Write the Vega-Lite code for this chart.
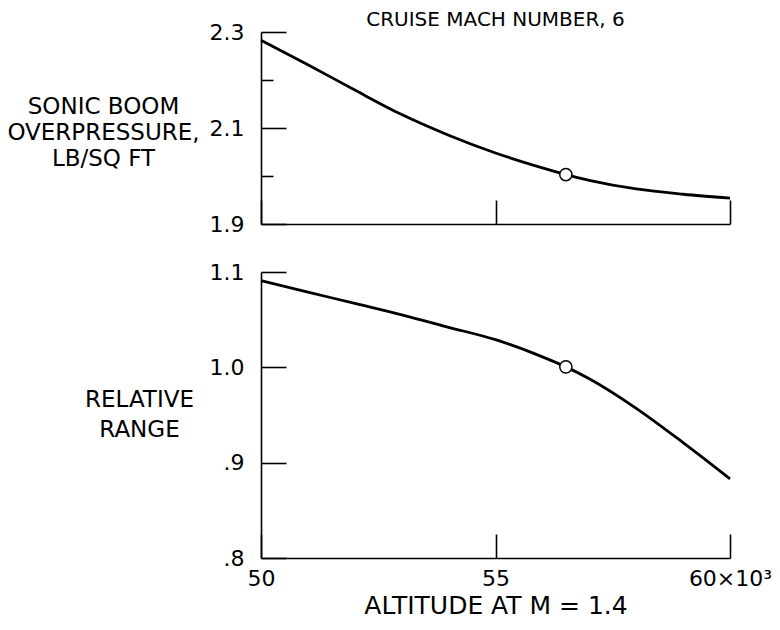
{
  "$schema": "https://vega.github.io/schema/vega-lite/v6.json",
  "background": "white",
  "padding": {"left": 6, "top": 10, "right": 5, "bottom": 5},
  "spacing": 26,
  "config": {
    "font": "DejaVu Sans",
    "view": {"stroke": null},
    "axis": {
      "grid": false,
      "domainColor": "black",
      "domainWidth": 1.6,
      "tickColor": "black",
      "tickWidth": 1.6,
      "labelColor": "black",
      "labelFont": "DejaVu Sans",
      "titleColor": "black",
      "titleFont": "DejaVu Sans",
      "titleFontWeight": "normal"
    }
  },
  "datasets": {
    "boom": [
      {"altitude": 50, "value": 2.283},
      {"altitude": 51, "value": 2.232},
      {"altitude": 52, "value": 2.179},
      {"altitude": 53, "value": 2.128},
      {"altitude": 54, "value": 2.085},
      {"altitude": 55, "value": 2.048},
      {"altitude": 56, "value": 2.017},
      {"altitude": 56.5, "value": 2.003},
      {"altitude": 57, "value": 1.991},
      {"altitude": 58, "value": 1.973},
      {"altitude": 59, "value": 1.962},
      {"altitude": 60, "value": 1.954}
    ],
    "boomDesign": [
      {"altitude": 56.5, "value": 2.003}
    ],
    "range": [
      {"altitude": 50, "value": 1.091},
      {"altitude": 51, "value": 1.079},
      {"altitude": 52, "value": 1.067},
      {"altitude": 53, "value": 1.055},
      {"altitude": 54, "value": 1.042},
      {"altitude": 55, "value": 1.029},
      {"altitude": 56, "value": 1.011},
      {"altitude": 56.5, "value": 1.0005},
      {"altitude": 57, "value": 0.988},
      {"altitude": 58, "value": 0.957},
      {"altitude": 59, "value": 0.921},
      {"altitude": 60, "value": 0.883}
    ],
    "rangeDesign": [
      {"altitude": 56.5, "value": 1.0005}
    ]
  },
  "vconcat": [
    {
      "width": 469,
      "height": 192,
      "title": {
        "text": "CRUISE MACH NUMBER, 6",
        "frame": "group",
        "anchor": "middle",
        "fontSize": 20,
        "fontWeight": "normal",
        "font": "DejaVu Sans",
        "color": "black",
        "offset": -9
      },
      "encoding": {
        "x": {
          "field": "altitude",
          "type": "quantitative",
          "scale": {"domain": [50, 60], "nice": false, "zero": false},
          "axis": {
            "values": [50, 55, 60],
            "tickSize": -24,
            "labels": false,
            "title": null
          }
        },
        "y": {
          "field": "value",
          "type": "quantitative",
          "scale": {"domain": [1.9, 2.3], "nice": false, "zero": false},
          "axis": {
            "values": [1.9, 2.0, 2.1, 2.2, 2.3],
            "tickSize": {"condition": {"test": "datum.value == 2 || datum.value == 2.2", "value": -12}, "value": -25},
            "labelExpr": "datum.value == 2 || datum.value == 2.2 ? '' : format(datum.value, '.1f')",
            "labelFontSize": 22,
            "labelPadding": 42,
            "labelFlush": false,
            "title": ["SONIC BOOM", "OVERPRESSURE,", "LB/SQ FT"],
            "titleAngle": 0,
            "titleAlign": "center",
            "titleBaseline": "middle",
            "titleX": -158,
            "titleY": 74,
            "titleFontSize": 23,
            "titleLineHeight": 26
          }
        }
      },
      "layer": [
        {
          "data": {"name": "boom"},
          "mark": {"type": "line", "color": "black", "strokeWidth": 2.8, "interpolate": "monotone"}
        },
        {
          "data": {"name": "boomDesign"},
          "mark": {"type": "point", "shape": "circle", "filled": true, "fill": "white", "stroke": "black", "strokeWidth": 1.5, "size": 150, "opacity": 1}
        }
      ]
    },
    {
      "width": 469,
      "height": 286,
      "encoding": {
        "x": {
          "field": "altitude",
          "type": "quantitative",
          "scale": {"domain": [50, 60], "nice": false, "zero": false},
          "axis": {
            "values": [50, 55, 60],
            "tickSize": -24,
            "labelExpr": "datum.value == 60 ? '60×10³' : format(datum.value, 'd')",
            "labelFontSize": 22,
            "labelPadding": 34,
            "labelFlush": false,
            "title": "ALTITUDE AT M = 1.4",
            "titleFontSize": 25,
            "titlePadding": 4
          }
        },
        "y": {
          "field": "value",
          "type": "quantitative",
          "scale": {"domain": [0.8, 1.1], "nice": false, "zero": false},
          "axis": {
            "values": [0.8, 0.9, 1.0, 1.1],
            "tickSize": -25,
            "labelExpr": "datum.value == 1 ? '1.0' : datum.value == 1.1 ? '1.1' : datum.value == 0.9 ? '.9' : '.8'",
            "labelFontSize": 22,
            "labelPadding": 42,
            "labelFlush": false,
            "title": ["RELATIVE", "RANGE"],
            "titleAngle": 0,
            "titleAlign": "center",
            "titleBaseline": "middle",
            "titleX": -122,
            "titleY": 127,
            "titleFontSize": 23,
            "titleLineHeight": 30
          }
        }
      },
      "layer": [
        {
          "data": {"name": "range"},
          "mark": {"type": "line", "color": "black", "strokeWidth": 2.8, "interpolate": "monotone"}
        },
        {
          "data": {"name": "rangeDesign"},
          "mark": {"type": "point", "shape": "circle", "filled": true, "fill": "white", "stroke": "black", "strokeWidth": 1.5, "size": 150, "opacity": 1}
        }
      ]
    }
  ]
}
